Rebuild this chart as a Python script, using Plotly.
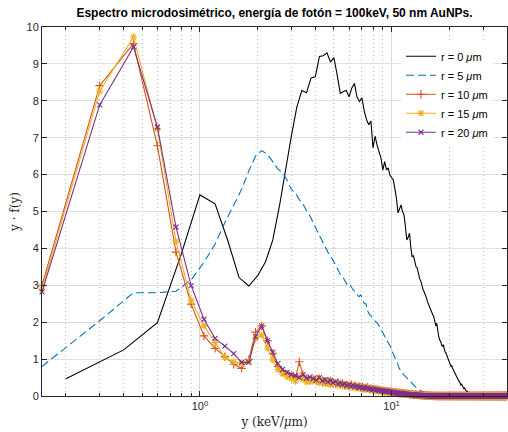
import numpy as np
import plotly.graph_objects as go

# ---------------- data ----------------
BIN_R0 = 0.2      # bin width of r = 0 series
BIN_R = 0.15      # bin width of other series

r0_y = [0.47, 1.25, 1.99, 3.85, 5.45, 5.21, 4.2, 3.21, 2.98, 3.26,
        3.64, 4.23, 5.15, 6.2, 7.05, 7.82, 8.28, 8.22, 8.62, 8.65,
        9.2, 9.22, 9.30, 9.05, 9.17, 8.7, 8.2, 8.25, 8.28, 8.11,
        8.35, 8.47, 8.1, 7.98, 8.08, 7.72, 7.49, 7.35, 7.45, 6.72,
        7.04, 6.8, 6.59, 6.45, 6.12, 6.35, 6.13, 6.18, 5.98, 5.92,
        5.86, 5.62, 5.36, 4.96, 5.1, 5.18, 5.0, 4.91, 4.6, 4.23,
        4.3, 4.41, 4.02, 3.78, 3.8, 3.62, 3.51, 3.47, 3.3, 3.18,
        3.12, 2.96, 2.88, 2.82, 2.7, 2.66, 2.55, 2.47, 2.42, 2.3,
        2.27, 2.2, 2.15, 2.02, 1.9, 1.97, 1.72, 1.62, 1.52, 1.49,
        1.4, 1.34, 1.39, 1.25, 1.2, 1.17, 1.1, 1.0, 0.96, 0.89,
        0.86, 0.8, 0.83, 0.75, 0.7, 0.67, 0.6, 0.57, 0.52, 0.49,
        0.44, 0.41, 0.39, 0.33, 0.3, 0.32, 0.26, 0.22, 0.2, 0.22,
        0.17, 0.15, 0.12, 0.13, 0.1, 0.08, 0.1, 0.06, 0.05, 0.06,
        0.03, 0.02, 0.03, 0.01, 0.0, 0.0, 0.0, 0.0, 0.0, 0.0]

r5_y = [0.80, 2.04, 2.80, 2.80, 2.84, 3.15, 3.62, 4.12, 4.7, 5.15,
        5.6, 6.1, 6.5, 6.65, 6.55, 6.35, 6.15, 6.05, 5.85, 5.6,
        5.5, 5.32, 5.2, 5.02, 4.88, 4.7, 4.5, 4.35, 4.2, 4.03,
        3.9, 3.8, 3.69, 3.55, 3.42, 3.3, 3.24, 3.12, 3.02, 3.05,
        2.95, 2.88, 2.82, 2.75, 2.69, 2.74, 2.6, 2.5, 2.5, 2.3,
        2.22, 2.18, 2.1, 2.06, 2.03, 1.98, 1.92, 1.85, 1.8, 1.72,
        1.66, 1.6, 1.52, 1.45, 1.4, 1.32, 1.22, 1.15, 1.05, 1.0,
        0.92, 0.85, 0.75, 0.7, 0.68, 0.62, 0.58, 0.55, 0.52, 0.48,
        0.44, 0.42, 0.38, 0.36, 0.33, 0.31, 0.29, 0.26, 0.24, 0.22,
        0.2, 0.18, 0.16, 0.15, 0.13, 0.12, 0.11, 0.09, 0.08, 0.07,
        0.06, 0.05, 0.04, 0.04, 0.03, 0.03, 0.02, 0.02, 0.01, 0.01,
        0.01, 0.0]

zero_tail = [0, 0, 0, 0, 0, 0, 0, 0, 0, 0, 0, 0, 0, 0, 0, 0, 0, 0, 0, 0,
             0, 0, 0, 0, 0, 0, 0, 0, 0, 0, 0, 0, 0, 0, 0, 0, 0, 0, 0, 0,
             0, 0, 0, 0, 0, 0, 0, 0, 0, 0, 0, 0, 0, 0, 0, 0, 0, 0, 0, 0,
             0, 0, 0, 0, 0, 0, 0, 0, 0, 0, 0, 0, 0, 0, 0, 0, 0, 0, 0, 0,
             0, 0, 0, 0, 0, 0, 0, 0, 0, 0, 0, 0, 0, 0, 0, 0, 0, 0, 0, 0,
             0, 0, 0, 0, 0, 0, 0, 0, 0, 0, 0, 0, 0, 0, 0, 0, 0, 0, 0, 0,
             0, 0, 0, 0, 0, 0, 0, 0, 0, 0, 0, 0, 0, 0, 0, 0, 0, 0, 0, 0,
             0, 0, 0, 0, 0, 0, 0, 0, 0, 0, 0]

r10_y = [3.00, 8.41, 9.55, 6.78, 3.90, 2.49, 1.63, 1.29, 1.07, 0.86,
         0.75, 0.99, 1.73, 1.90, 1.50, 1.16, 0.80, 0.66, 0.60, 0.55,
         0.48, 0.93, 0.57, 0.45, 0.42,
         0.45, 0.42, 0.47, 0.38, 0.40, 0.36, 0.41, 0.35, 0.33, 0.37,
         0.31, 0.34, 0.29, 0.30, 0.27, 0.31, 0.26, 0.28, 0.24, 0.26,
         0.23, 0.25, 0.21, 0.22, 0.24, 0.19, 0.20, 0.18, 0.19, 0.17,
         0.18, 0.15, 0.16, 0.14, 0.15, 0.13, 0.14, 0.12, 0.13, 0.11,
         0.12, 0.10, 0.11, 0.09, 0.10, 0.09, 0.08, 0.09, 0.08, 0.07,
         0.07, 0.06, 0.07, 0.06, 0.05, 0.06, 0.05, 0.05, 0.04, 0.05,
         0.04, 0.04, 0.03, 0.04, 0.03, 0.03, 0.03, 0.02, 0.03, 0.02,
         0.02, 0.02, 0.02, 0.01, 0.02, 0.01, 0.01, 0.01, 0.01, 0.01,
         0.01, 0.01, 0.01, 0.0, 0.01, 0.0, 0.0, 0.01, 0.0, 0.0] + zero_tail

r15_y = [2.90, 8.26, 9.73, 7.24, 4.19, 2.59, 1.90, 1.45, 1.04, 0.93,
         0.89, 0.95, 1.55, 1.65, 1.30, 0.98, 0.72, 0.60, 0.52, 0.47,
         0.40, 0.52, 0.45, 0.38, 0.42,
         0.40, 0.48, 0.36, 0.44, 0.33, 0.42, 0.30, 0.38, 0.35, 0.29,
         0.36, 0.27, 0.33, 0.25, 0.30, 0.24, 0.29, 0.22, 0.27, 0.21,
         0.25, 0.19, 0.24, 0.18, 0.22, 0.17, 0.21, 0.15, 0.19, 0.14,
         0.18, 0.13, 0.17, 0.12, 0.16, 0.11, 0.14, 0.10, 0.13, 0.09,
         0.12, 0.08, 0.11, 0.08, 0.10, 0.07, 0.09, 0.06, 0.08, 0.06,
         0.07, 0.05, 0.06, 0.04, 0.06, 0.04, 0.05, 0.03, 0.05, 0.03,
         0.04, 0.03, 0.04, 0.02, 0.03, 0.02, 0.03, 0.02, 0.02, 0.01,
         0.02, 0.01, 0.02, 0.01, 0.01, 0.01, 0.01, 0.0, 0.01, 0.0,
         0.01, 0.0, 0.0, 0.01, 0.0, 0.0, 0.0, 0.0, 0.0, 0.0] + zero_tail

r20_y = [2.82, 7.89, 9.46, 7.29, 4.58, 2.99, 2.08, 1.56, 1.35, 1.15,
         0.91, 0.91, 1.61, 1.90, 1.50, 1.18, 0.88, 0.72, 0.64, 0.58,
         0.55, 0.50, 0.58, 0.48, 0.52,
         0.47, 0.43, 0.50, 0.41, 0.44, 0.38, 0.42, 0.36, 0.39, 0.33,
         0.35, 0.31, 0.33, 0.28, 0.31, 0.27, 0.29, 0.25, 0.27, 0.23,
         0.25, 0.22, 0.23, 0.20, 0.22, 0.19, 0.20, 0.17, 0.18, 0.16,
         0.17, 0.15, 0.16, 0.14, 0.14, 0.13, 0.13, 0.12, 0.12, 0.11,
         0.11, 0.10, 0.10, 0.09, 0.09, 0.08, 0.08, 0.07, 0.08, 0.07,
         0.06, 0.06, 0.06, 0.05, 0.05, 0.05, 0.04, 0.04, 0.04, 0.03,
         0.03, 0.03, 0.03, 0.02, 0.03, 0.02, 0.02, 0.02, 0.02, 0.01,
         0.01, 0.01, 0.01, 0.01, 0.01, 0.01, 0.01, 0.0, 0.01, 0.0,
         0.01, 0.0, 0.0, 0.0, 0.0, 0.0, 0.0, 0.0, 0.0, 0.0] + zero_tail

series_names = ["r = 0 <i>μ</i>m", "r = 5 <i>μ</i>m", "r = 10 <i>μ</i>m",
                "r = 15 <i>μ</i>m", "r = 20 <i>μ</i>m"]

x_major = [1, 10]
x_major_text = ["10<sup>0</sup>", "10<sup>1</sup>"]
x_minor = [0.2, 0.3, 0.4, 0.5, 0.6, 0.7, 0.8, 0.9,
           2, 3, 4, 5, 6, 7, 8, 9, 20, 30, 40]
y_ticks = [0, 1, 2, 3, 4, 5, 6, 7, 8, 9, 10]

TITLE = "Espectro microdosimétrico, energía de fotón = 100keV, 50 nm AuNPs."
XLABEL = "y (keV/<i>μ</i>m)"
YLABEL = "y · f(y)"


def bins(width, n):
    return [round(width * (k + 1), 4) for k in range(n)]


# ---------------- figure ----------------
fig = go.Figure()

fig.add_trace(go.Scatter(x=bins(BIN_R0, len(r0_y)), y=r0_y, mode="lines",
                         name=series_names[0],
                         line=dict(color="#000000", width=1.1)))
fig.add_trace(go.Scatter(x=bins(BIN_R, len(r5_y)), y=r5_y, mode="lines",
                         name=series_names[1],
                         line=dict(color="#0072BD", width=1.1, dash="8px,4px")))
fig.add_trace(go.Scatter(x=bins(BIN_R, len(r10_y)), y=r10_y, mode="lines+markers",
                         name=series_names[2], cliponaxis=False,
                         line=dict(color="#D95319", width=1.1),
                         marker=dict(symbol="cross-thin", size=6, color="#D95319",
                                     line=dict(color="#D95319", width=1.1))))
fig.add_trace(go.Scatter(x=bins(BIN_R, len(r15_y)), y=r15_y, mode="lines+markers",
                         name=series_names[3], cliponaxis=False,
                         line=dict(color="#EDB120", width=1.1),
                         marker=dict(symbol="asterisk-open", size=6, color="#EDB120",
                                     line=dict(color="#EDB120", width=1.1))))
fig.add_trace(go.Scatter(x=bins(BIN_R, len(r20_y)), y=r20_y, mode="lines+markers",
                         name=series_names[4], cliponaxis=False,
                         line=dict(color="#7E2F8E", width=1.1),
                         marker=dict(symbol="x-thin", size=5, color="#7E2F8E",
                                     line=dict(color="#7E2F8E", width=1.1))))

axis_col = "#262626"
fig.update_layout(
    width=508, height=432,
    margin=dict(l=42, r=1, t=27, b=36),
    paper_bgcolor="white", plot_bgcolor="white",
    font=dict(family="Liberation Sans, Arial, sans-serif", size=11, color=axis_col),
    title=dict(text="<b>" + TITLE + "</b>", x=(42 + 507) / 2 / 508, xanchor="center",
               y=1 - 13 / 432, yanchor="middle",
               font=dict(size=12, color="#000000")),
    showlegend=True,
    legend=dict(x=0.772, y=0.96, xanchor="left", yanchor="top",
                bgcolor="white", borderwidth=0,
                font=dict(size=11, color="#000000"),
                tracegroupgap=0, itemwidth=30),
    xaxis=dict(type="log", range=[np.log10(0.15), np.log10(40)],
               tickvals=x_major, ticktext=x_major_text,
               showgrid=True, gridcolor="#DADADA", gridwidth=1,
               ticks="inside", ticklen=5, tickcolor=axis_col,
               showline=True, linecolor=axis_col, linewidth=1, mirror="ticks",
               zeroline=False,
               tickfont=dict(size=11, color=axis_col),
               minor=dict(tickvals=x_minor, ticks="inside", ticklen=3,
                          tickcolor=axis_col, showgrid=True,
                          gridcolor="#BDBDBD", griddash="1px,3px", gridwidth=1),
               title=dict(text=XLABEL, standoff=6,
                          font=dict(family="DejaVu Serif, Liberation Serif, serif",
                                    size=12, color=axis_col))),
    yaxis=dict(range=[0, 10], tickvals=y_ticks,
               showgrid=True, gridcolor="#DFDFDF", gridwidth=1,
               ticks="inside", ticklen=5, tickcolor=axis_col,
               showline=True, linecolor=axis_col, linewidth=1, mirror="ticks",
               zeroline=False,
               tickfont=dict(size=11, color=axis_col),
               title=dict(text=YLABEL, standoff=4,
                          font=dict(family="DejaVu Serif, Liberation Serif, serif",
                                    size=12, color=axis_col))),
)

fig.write_html("out.html")
